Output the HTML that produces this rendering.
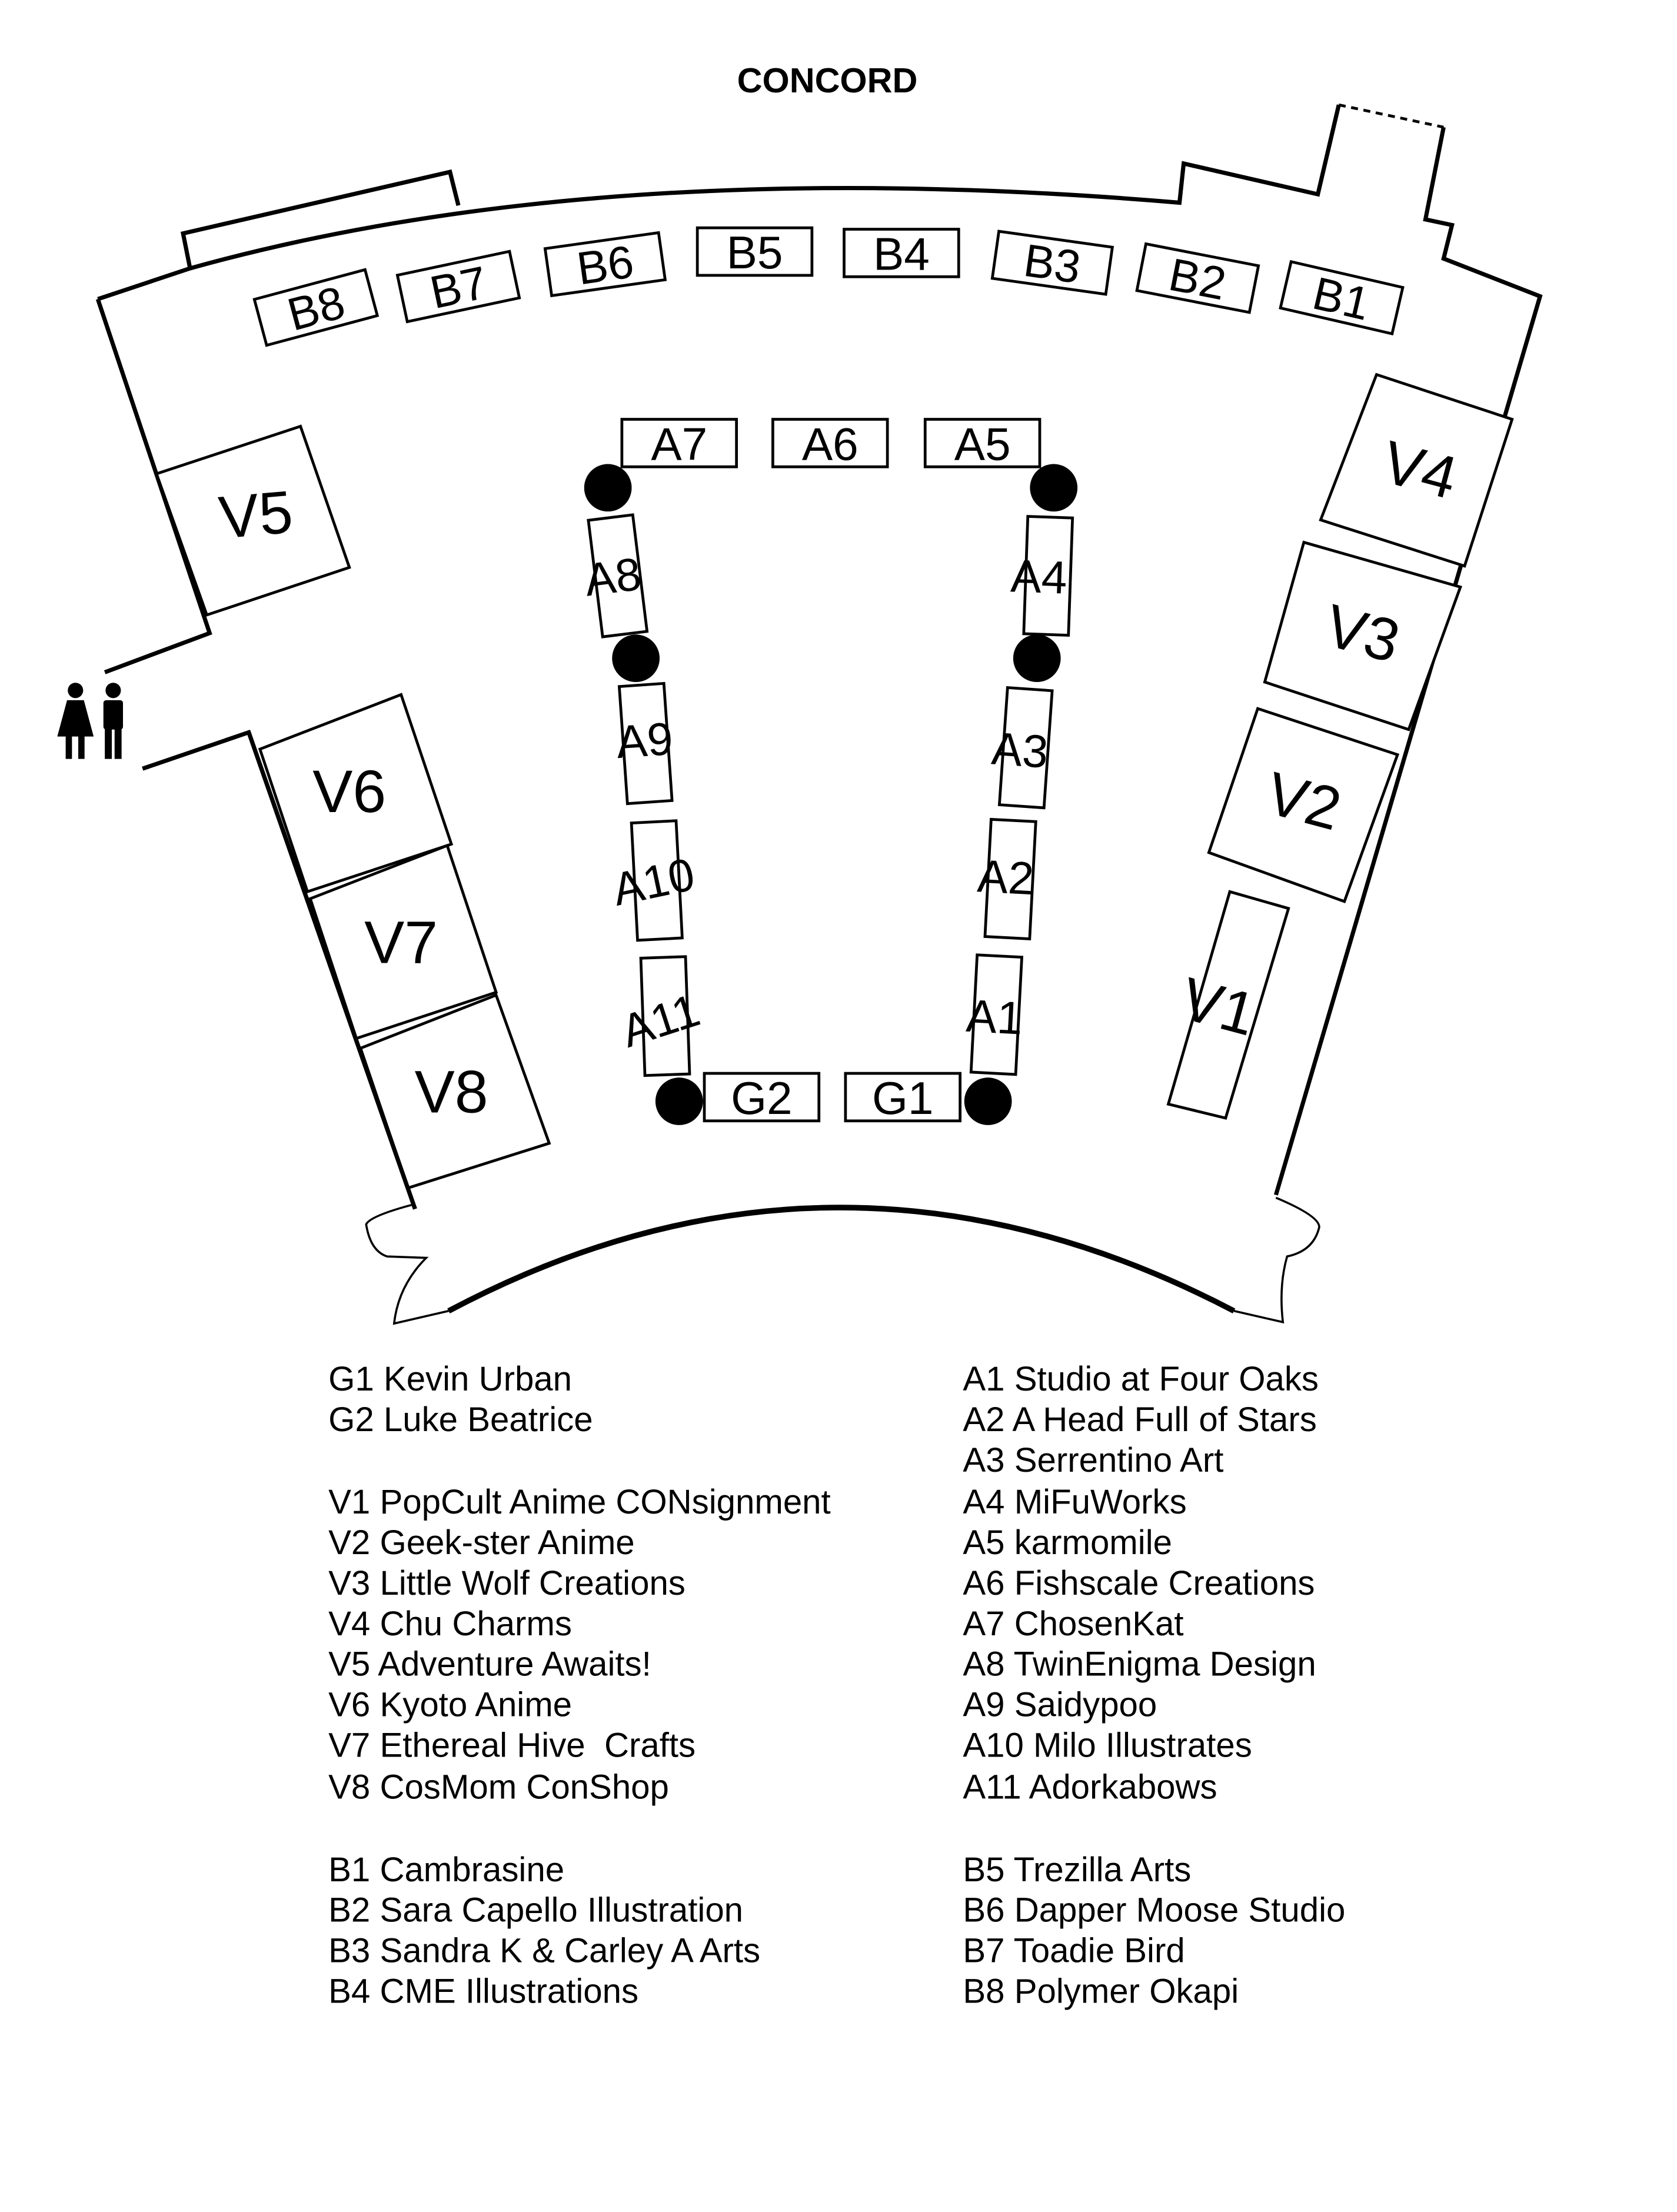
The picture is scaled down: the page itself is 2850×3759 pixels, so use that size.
<!DOCTYPE html>
<html><head><meta charset="utf-8"><style>
html,body{margin:0;padding:0;background:#fff;}
svg{display:block;}
text{font-family:"Liberation Sans",sans-serif;fill:#000;}
</style></head><body>
<svg width="2850" height="3759" viewBox="0 0 1200 1582.7" xmlns="http://www.w3.org/2000/svg">
<text x="592" y="66" font-size="25" font-weight="bold" text-anchor="middle">CONCORD</text>
<g fill="none" stroke="#000" stroke-width="3" stroke-linejoin="miter">
<path d="M70,214 L136,192 Q430,110 844,145 L847,117 L943,139 L958,75"/>
<path d="M136,192 L131,167 L322,123 L328,147"/>
<path d="M958,75 L1033,91" stroke-dasharray="5,4" stroke-width="2"/>
<path d="M1033,91 L1020,157 L1039,161 L1033,185 L1102,212 Q1010,520 913,855"/>
<path d="M70,214 L150,453 L75,481"/>
<path d="M102,550 L178,524 L297,865"/>
</g>
<g fill="none" stroke="#000" stroke-width="1.5">
<path d="M295,862 Q265,870 262,876 Q265,895 277,899 L305,900 Q285,920 282,947 L321,938"/>
<path d="M913,857 Q944,870 944,878 Q940,895 921,899 Q915,920 918,946 L883,938"/>
</g>
<path d="M321,938 Q600,790 883,938" fill="none" stroke="#000" stroke-width="4"/>
<g fill="#fff" stroke="#000" stroke-width="2" font-size="33">
<g transform="translate(226,220) rotate(-15)"><rect x="-41" y="-17" width="82" height="34"/><text x="0" y="12" text-anchor="middle" stroke="none">B8</text></g>
<g transform="translate(328,205) rotate(-12)"><rect x="-41" y="-17" width="82" height="34"/><text x="0" y="12" text-anchor="middle" stroke="none">B7</text></g>
<g transform="translate(433,189) rotate(-8)"><rect x="-41" y="-17" width="82" height="34"/><text x="0" y="12" text-anchor="middle" stroke="none">B6</text></g>
<g transform="translate(540,180)"><rect x="-41" y="-17" width="82" height="34"/><text x="0" y="12" text-anchor="middle" stroke="none">B5</text></g>
<g transform="translate(645,181)"><rect x="-41" y="-17" width="82" height="34"/><text x="0" y="12" text-anchor="middle" stroke="none">B4</text></g>
<g transform="translate(753,188) rotate(8)"><rect x="-41" y="-17" width="82" height="34"/><text x="0" y="12" text-anchor="middle" stroke="none">B3</text></g>
<g transform="translate(857,199) rotate(11)"><rect x="-41" y="-17" width="82" height="34"/><text x="0" y="12" text-anchor="middle" stroke="none">B2</text></g>
<g transform="translate(960,213) rotate(13)"><rect x="-41" y="-17" width="82" height="34"/><text x="0" y="12" text-anchor="middle" stroke="none">B1</text></g>
<g transform="translate(486,317)"><rect x="-41" y="-17" width="82" height="34"/><text x="0" y="12" text-anchor="middle" stroke="none">A7</text></g>
<g transform="translate(594,317)"><rect x="-41" y="-17" width="82" height="34"/><text x="0" y="12" text-anchor="middle" stroke="none">A6</text></g>
<g transform="translate(703,317)"><rect x="-41" y="-17" width="82" height="34"/><text x="0" y="12" text-anchor="middle" stroke="none">A5</text></g>
<g transform="translate(545,785)"><rect x="-41" y="-17" width="82" height="34"/><text x="0" y="12" text-anchor="middle" stroke="none">G2</text></g>
<g transform="translate(646,785)"><rect x="-41" y="-17" width="82" height="34"/><text x="0" y="12" text-anchor="middle" stroke="none">G1</text></g>
<g transform="translate(442,412) rotate(-7)"><rect x="-16" y="-42" width="32" height="84"/></g>
<text transform="translate(440,424) rotate(-7)" text-anchor="middle" stroke="none">A8</text>
<g transform="translate(750,412) rotate(2)"><rect x="-16" y="-42" width="32" height="84"/></g>
<text transform="translate(743,424) rotate(2)" text-anchor="middle" stroke="none">A4</text>
<g transform="translate(462,532) rotate(-4)"><rect x="-16" y="-42" width="32" height="84"/></g>
<text transform="translate(462,541) rotate(-4)" text-anchor="middle" stroke="none">A9</text>
<g transform="translate(734,535) rotate(4)"><rect x="-16" y="-42" width="32" height="84"/></g>
<text transform="translate(729,548) rotate(4)" text-anchor="middle" stroke="none">A3</text>
<g transform="translate(470,630) rotate(-3)"><rect x="-16" y="-42" width="32" height="84"/></g>
<text transform="translate(470,642) rotate(-12)" text-anchor="middle" stroke="none">A10</text>
<g transform="translate(723,629) rotate(3)"><rect x="-16" y="-42" width="32" height="84"/></g>
<text transform="translate(719,639) rotate(3)" text-anchor="middle" stroke="none">A2</text>
<g transform="translate(476,727) rotate(-2)"><rect x="-16" y="-42" width="32" height="84"/></g>
<text transform="translate(476,741) rotate(-18)" text-anchor="middle" stroke="none">A11</text>
<g transform="translate(713,726) rotate(3)"><rect x="-16" y="-42" width="32" height="84"/></g>
<text transform="translate(711,739) rotate(3)" text-anchor="middle" stroke="none">A1</text>
</g>
<g fill="#000">
<circle cx="435" cy="349" r="17"/><circle cx="754" cy="349" r="17"/>
<circle cx="455" cy="471" r="17"/><circle cx="742" cy="471" r="17"/>
<circle cx="486" cy="788" r="17"/><circle cx="707" cy="788" r="17"/>
</g>
<g fill="#fff" stroke="#000" stroke-width="2">
<polygon points="112,339 215,305 250,406 148,440"/>
<polygon points="985,268 1082,300 1048,405 945,372"/>
<polygon points="933,388 1045,420 1008,522 905,488"/>
<polygon points="900,507 1000,540 962,645 865,610"/>
<polygon points="880,638 922,650 877,800 836,790"/>
<polygon points="186,536 287,497 323,604 220,638"/>
<polygon points="222,643 320,605 355,710 255,743"/>
<polygon points="258,750 355,712 393,818 292,850"/>
</g>
<path d="M178,524 L297,865" fill="none" stroke="#000" stroke-width="3"/>
<g font-size="43" text-anchor="middle">
<text x="183" y="383" transform="rotate(-5 183 368)">V5</text>
<text x="1016" y="351" transform="rotate(15 1016 336)">V4</text>
<text x="975" y="468" transform="rotate(15 975 453)">V3</text>
<text x="933" y="588" transform="rotate(15 933 573)">V2</text>
<text x="872" y="735" transform="rotate(15 872 720)">V1</text>
<text x="250" y="581">V6</text>
<text x="287" y="689">V7</text>
<text x="323" y="796">V8</text>
</g>
<g fill="#000">
<circle cx="54" cy="494" r="5.5"/>
<path d="M48,501 L60,501 L67,527 L41,527 Z"/>
<rect x="47" y="520" width="4.5" height="23"/><rect x="56" y="520" width="4.5" height="23"/>
<circle cx="81" cy="494" r="5.5"/>
<rect x="74" y="501" width="14" height="21" rx="2"/>
<rect x="75" y="518" width="5" height="25"/><rect x="82" y="518" width="5" height="25"/>
</g>
<g font-size="24.5">
<text x="235" y="995">G1 Kevin Urban</text>
<text x="235" y="1024">G2 Luke Beatrice</text>
<text x="235" y="1083">V1 PopCult Anime CONsignment</text>
<text x="235" y="1112">V2 Geek-ster Anime</text>
<text x="235" y="1141">V3 Little Wolf Creations</text>
<text x="235" y="1170">V4 Chu Charms</text>
<text x="235" y="1199">V5 Adventure Awaits!</text>
<text x="235" y="1228">V6 Kyoto Anime</text>
<text x="235" y="1257" xml:space="preserve">V7 Ethereal Hive  Crafts</text>
<text x="235" y="1287">V8 CosMom ConShop</text>
<text x="235" y="1346">B1 Cambrasine</text>
<text x="235" y="1375">B2 Sara Capello Illustration</text>
<text x="235" y="1404">B3 Sandra K &amp; Carley A Arts</text>
<text x="235" y="1433">B4 CME Illustrations</text>
<text x="689" y="995">A1 Studio at Four Oaks</text>
<text x="689" y="1024">A2 A Head Full of Stars</text>
<text x="689" y="1053">A3 Serrentino Art</text>
<text x="689" y="1083">A4 MiFuWorks</text>
<text x="689" y="1112">A5 karmomile</text>
<text x="689" y="1141">A6 Fishscale Creations</text>
<text x="689" y="1170">A7 ChosenKat</text>
<text x="689" y="1199">A8 TwinEnigma Design</text>
<text x="689" y="1228">A9 Saidypoo</text>
<text x="689" y="1257">A10 Milo Illustrates</text>
<text x="689" y="1287">A11 Adorkabows</text>
<text x="689" y="1346">B5 Trezilla Arts</text>
<text x="689" y="1375">B6 Dapper Moose Studio</text>
<text x="689" y="1404">B7 Toadie Bird</text>
<text x="689" y="1433">B8 Polymer Okapi</text>
</g>
</svg>
</body></html>
